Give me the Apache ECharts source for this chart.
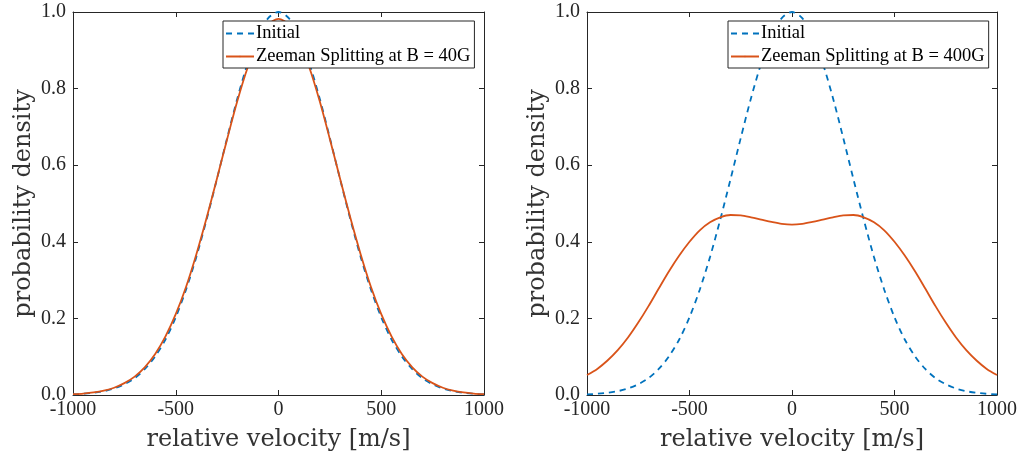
<!DOCTYPE html>
<html>
<head>
<meta charset="utf-8">
<script src="https://cdn.jsdelivr.net/npm/echarts@6/dist/echarts.min.js"></script>
<style>
  html, body { margin: 0; padding: 0; background: #fff; }
  #chart { width: 1023px; height: 459px; }
</style>
</head>
<body>
<div id="chart"></div>
<script>
// Velocity grid (m/s), sampled every 50 m/s
const velocity = [
  -1000, -950, -900, -850, -800, -750, -700, -650, -600, -550, -500,
  -450, -400, -350, -300, -250, -200, -150, -100, -50, 0,
  50, 100, 150, 200, 250, 300, 350, 400, 450, 500,
  550, 600, 650, 700, 750, 800, 850, 900, 950, 1000
];

// Initial velocity distribution (normalised to peak 1)
const initialDist = [
  0.0017, 0.0032, 0.0057, 0.010, 0.017, 0.028, 0.044, 0.068, 0.101, 0.145, 0.203,
  0.275, 0.360, 0.458, 0.563, 0.671, 0.775, 0.866, 0.938, 0.984, 1.000,
  0.984, 0.938, 0.866, 0.775, 0.671, 0.563, 0.458, 0.360, 0.275, 0.203,
  0.145, 0.101, 0.068, 0.044, 0.028, 0.017, 0.010, 0.0057, 0.0032, 0.0017
];

// Distribution after Zeeman splitting at B = 40 G
const zeeman40 = [
  0.0021, 0.0038, 0.0067, 0.0115, 0.019, 0.031, 0.048, 0.073, 0.107, 0.153, 0.211,
  0.282, 0.367, 0.462, 0.564, 0.668, 0.768, 0.855, 0.923, 0.967, 0.982,
  0.967, 0.923, 0.855, 0.768, 0.668, 0.564, 0.462, 0.367, 0.282, 0.211,
  0.153, 0.107, 0.073, 0.048, 0.031, 0.019, 0.0115, 0.0067, 0.0038, 0.0021
];

// Distribution after Zeeman splitting at B = 400 G
const zeeman400 = [
  0.052, 0.068, 0.090, 0.117, 0.150, 0.189, 0.232, 0.278, 0.323, 0.364, 0.400,
  0.430, 0.451, 0.464, 0.470, 0.469, 0.464, 0.458, 0.452, 0.447, 0.445,
  0.447, 0.452, 0.458, 0.464, 0.469, 0.470, 0.464, 0.451, 0.430, 0.400,
  0.364, 0.323, 0.278, 0.232, 0.189, 0.150, 0.117, 0.090, 0.068, 0.052
];

const xTicks = [-1000, -500, 0, 500, 1000];
const yTicks = [0.0, 0.2, 0.4, 0.6, 0.8, 1.0];

const seriesNames = ['Initial', 'Zeeman Splitting at B = 40G', 'Zeeman Splitting at B = 400G'];

const pairs = (ys) => velocity.map((v, i) => [v, ys[i]]);

const BLUE = '#0072BD';
const ORANGE = '#D95319';
const AXIS = '#262626';
const SERIF = '"Liberation Serif", "Times New Roman", serif';
const NAME_FONT = '"DejaVu Serif", serif';

function xAxisPair(gridIndex) {
  const base = {
    type: 'value', gridIndex, min: -1000, max: 1000, interval: 500,
    axisLine: { show: true, onZero: false, lineStyle: { color: AXIS, width: 1 } },
    axisTick: { show: true, inside: true, length: 5, lineStyle: { color: AXIS } },
    splitLine: { show: false }
  };
  return [
    Object.assign({}, base, {
      position: 'bottom',
      axisLabel: { show: true, color: AXIS, fontFamily: SERIF, fontSize: 20, margin: 5,
        formatter: (v) => xTicks.includes(v) ? String(v) : '' },
      name: 'relative velocity [m/s]', nameLocation: 'middle', nameGap: 33,
      nameTextStyle: { color: '#333', fontFamily: NAME_FONT, fontSize: 24 }
    }),
    Object.assign({}, base, { position: 'top', axisLabel: { show: false } })
  ];
}

function yAxisPair(gridIndex) {
  const base = {
    type: 'value', gridIndex, min: 0, max: 1, interval: 0.2,
    axisLine: { show: true, onZero: false, lineStyle: { color: AXIS, width: 1 } },
    axisTick: { show: true, inside: true, length: 5, lineStyle: { color: AXIS } },
    splitLine: { show: false }
  };
  return [
    Object.assign({}, base, {
      position: 'left',
      axisLabel: { show: true, color: AXIS, fontFamily: SERIF, fontSize: 20, margin: 7,
        formatter: (v) => yTicks.some((t) => Math.abs(t - v) < 1e-9) ? v.toFixed(1) : '' },
      name: 'probability density', nameLocation: 'middle', nameGap: 37,
      nameTextStyle: { color: '#333', fontFamily: NAME_FONT, fontSize: 24 }
    }),
    Object.assign({}, base, { position: 'right', axisLabel: { show: false } })
  ];
}

function lineSeries(name, data, axisIndex, color, dashed) {
  return {
    type: 'line', name, data: pairs(data),
    xAxisIndex: axisIndex, yAxisIndex: axisIndex,
    symbol: 'none', smooth: 0.3, z: dashed ? 2 : 3,
    lineStyle: { color, width: 1.8, type: dashed ? [6, 5] : 'solid' },
    itemStyle: { color }
  };
}

function legendBox(left, names) {
  return {
    orient: 'vertical', left, top: 21,
    data: names,
    itemWidth: 28, itemHeight: 2, itemGap: 4,
    padding: [3, 4, 2, 2],
    borderColor: '#262626', borderWidth: 1, backgroundColor: '#fff',
    textStyle: { color: '#000', fontFamily: SERIF, fontSize: 18.5, padding: [0, 0, 0, -3] },
    selectedMode: false
  };
}

const chart = echarts.init(document.getElementById('chart'), null, { renderer: 'canvas' });
chart.setOption({
  animation: false,
  backgroundColor: '#fff',
  grid: [
    { left: 73, right: 539, top: 12, bottom: 64 },
    { left: 587, right: 26, top: 12, bottom: 64 }
  ],
  xAxis: [...xAxisPair(0), ...xAxisPair(1)],
  yAxis: [...yAxisPair(0), ...yAxisPair(1)],
  legend: [
    legendBox(223, [seriesNames[0], seriesNames[1]]),
    legendBox(728, [seriesNames[0], seriesNames[2]])
  ],
  series: [
    lineSeries(seriesNames[0], initialDist, 0, BLUE, true),
    lineSeries(seriesNames[1], zeeman40, 0, ORANGE, false),
    lineSeries(seriesNames[0], initialDist, 2, BLUE, true),
    lineSeries(seriesNames[2], zeeman400, 2, ORANGE, false)
  ]
});
</script>
</body>
</html>
